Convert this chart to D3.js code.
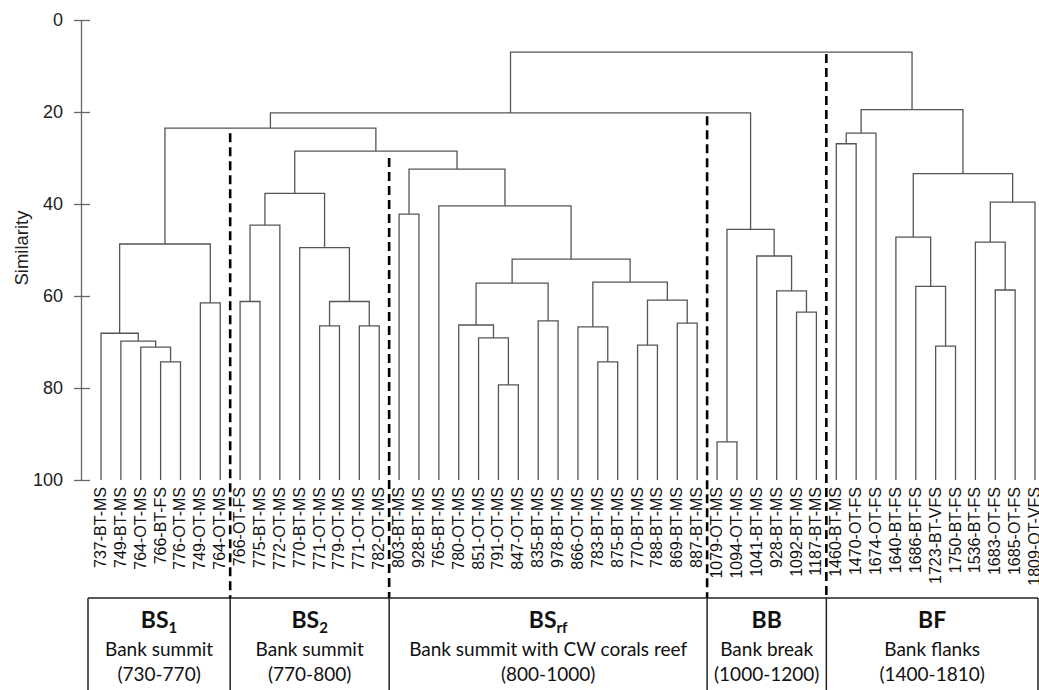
<!DOCTYPE html>
<html>
<head>
<meta charset="utf-8">
<script src="https://cdn.jsdelivr.net/npm/d3@7"></script>
<style>
  body { margin: 0; background: #fff; }
  svg { display: block; font-family: "Liberation Sans", Arial, sans-serif; }
</style>
</head>
<body>
<svg width="1039" height="690"></svg>
<script>
// sample labels, left to right
var leaves = [
  "737-BT-MS","749-BT-MS","764-OT-MS","766-BT-FS","776-OT-MS","749-OT-MS","764-OT-MS",
  "766-OT-FS","775-BT-MS","772-OT-MS","770-BT-MS","771-OT-MS","779-OT-MS","771-OT-MS","782-OT-MS",
  "803-BT-MS","928-BT-MS","765-BT-MS","780-OT-MS","851-OT-MS","791-OT-MS","847-OT-MS","835-BT-MS",
  "978-BT-MS","866-OT-MS","783-BT-MS","875-BT-MS","770-BT-MS","788-BT-MS","869-BT-MS","887-BT-MS",
  "1079-OT-MS","1094-OT-MS","1041-BT-MS","928-BT-MS","1092-BT-MS","1187-BT-MS",
  "1460-BT-MS","1470-OT-FS","1674-OT-FS","1640-BT-FS","1686-BT-FS","1723-BT-VFS","1750-BT-FS",
  "1536-BT-FS","1683-OT-FS","1685-OT-FS","1809-OT-VFS"
];

// hclust style merges: negative = leaf (1-based), positive = earlier merge row (1-based)
var merges = [
  [-4,-5],[-3,1],[-2,2],[-1,3],[-6,-7],[4,5],
  [-8,-9],[7,-10],[-12,-13],[-14,-15],[9,10],[-11,11],[8,12],
  [-16,-17],[-21,-22],[-20,15],[-19,16],[-23,-24],[17,18],[-26,-27],[-25,20],
  [-28,-29],[-30,-31],[22,23],[21,24],[19,25],[-18,26],[14,27],[13,28],[6,29],
  [-32,-33],[-36,-37],[-35,32],[-34,33],[31,34],[30,35],
  [-38,-39],[37,-40],[-43,-44],[-42,39],[-41,40],[-46,-47],[-45,42],[43,-48],
  [41,44],[38,45],[36,46]
];
var heights = [
  74.3,71.1,69.8,68.1,61.5,48.7,
  61.2,44.6,66.5,66.5,61.2,49.5,37.7,
  42.2,79.3,69.1,66.3,65.4,57.2,74.3,66.7,
  70.7,65.9,60.9,57.0,52.0,40.4,32.4,28.5,23.5,
  91.7,63.5,58.9,51.3,45.5,20.2,
  26.9,24.6,70.9,57.9,47.2,58.7,48.3,39.6,
  33.4,19.5,7.0
];

var yTicks = [0, 20, 40, 60, 80, 100];

// groups: first leaf index, dashed line top (similarity), texts
var groupStart = [0, 7, 15, 31, 37];
var groupDashTop = [null, 24.6, 30.0, 20.9, 7.4];
var groupCode = ["BS", "BS", "BS", "BB", "BF"];
var groupSub = ["1", "2", "rf", "", ""];
var groupName = ["Bank summit", "Bank summit", "Bank summit with CW corals reef", "Bank break", "Bank flanks"];
var groupRange = ["(730-770)", "(770-800)", "(800-1000)", "(1000-1200)", "(1400-1810)"];

var svg = d3.select("svg");

var x = d3.scaleLinear().domain([0, leaves.length - 1]).range([101, 1035]);
var y = d3.scaleLinear().domain([0, 100]).range([20, 480]);

// axis
var axis = svg.append("g")
    .attr("transform", "translate(81,0)")
    .call(d3.axisLeft(y).tickValues(yTicks).tickSizeOuter(0).tickSizeInner(7).tickPadding(11));
axis.select(".domain").attr("stroke", "#666").attr("stroke-width", 1.3);
axis.selectAll(".tick line").attr("x1", 9).attr("x2", -7).attr("stroke", "#666").attr("stroke-width", 1.3);
axis.selectAll(".tick text").attr("font-size", 18).attr("fill", "#222")
    .attr("font-family", "Liberation Sans, Arial, sans-serif");

svg.append("text")
    .attr("transform", "translate(28,248) rotate(-90)")
    .attr("text-anchor", "middle")
    .attr("font-size", 18.5)
    .attr("fill", "#222")
    .text("Similarity");

// dendrogram
var nodeX = [], nodeH = [];
function pos(ref) {
  if (ref < 0) return {x: x(-ref - 1), h: 100};
  return {x: nodeX[ref - 1], h: nodeH[ref - 1]};
}
var links = [];
merges.forEach(function(m, i) {
  var a = pos(m[0]), b = pos(m[1]), h = heights[i];
  nodeX.push((a.x + b.x) / 2);
  nodeH.push(h);
  links.push("M" + a.x + "," + y(a.h) + "V" + y(h) + "H" + b.x + "V" + y(b.h));
});

svg.append("g")
  .selectAll("path")
  .data(links)
  .enter().append("path")
    .attr("d", function(d) { return d; })
    .attr("fill", "none")
    .attr("stroke", "#555")
    .attr("stroke-width", 1.3);

// leaf labels
svg.append("g")
  .selectAll("text")
  .data(leaves)
  .enter().append("text")
    .attr("transform", function(d, i) { return "translate(" + (x(i) + 5) + ",487) rotate(-90)"; })
    .attr("text-anchor", "end")
    .attr("font-size", 16)
    .attr("fill", "#111")
    .text(function(d) { return d; });

// group boundaries
var bounds = groupStart.map(function(s) { return s === 0 ? 88 : (x(s - 1) + x(s)) / 2; });
bounds.push(1038);

svg.append("g")
  .selectAll("line")
  .data(groupStart.slice(1))
  .enter().append("line")
    .attr("x1", function(d, i) { return bounds[i + 1]; })
    .attr("x2", function(d, i) { return bounds[i + 1]; })
    .attr("y1", function(d, i) { return y(groupDashTop[i + 1]); })
    .attr("y2", 598)
    .attr("stroke", "#000")
    .attr("stroke-width", 2.6)
    .attr("stroke-dasharray", "9,5");

// table
var table = svg.append("g").attr("stroke", "#222").attr("stroke-width", 1.5);
table.append("line").attr("x1", 88).attr("x2", 1038).attr("y1", 598).attr("y2", 598);
table.selectAll(".v")
  .data(bounds)
  .enter().append("line")
    .attr("class", "v")
    .attr("x1", function(d) { return d; })
    .attr("x2", function(d) { return d; })
    .attr("y1", 598).attr("y2", 690);

var cells = svg.append("g")
    .attr("font-family", "Lato, 'Open Sans', sans-serif")
    .attr("fill", "#111")
    .attr("text-anchor", "middle");

groupCode.forEach(function(code, i) {
  var cx = (bounds[i] + bounds[i + 1]) / 2;
  var t = cells.append("text")
      .attr("x", cx).attr("y", 628)
      .attr("font-size", 23).attr("font-weight", "bold");
  t.append("tspan").text(code);
  if (groupSub[i]) {
    t.append("tspan").attr("font-size", 15).attr("dy", 5).text(groupSub[i]);
  }
  cells.append("text").attr("x", cx).attr("y", 656).attr("font-size", 19).text(groupName[i]);
  cells.append("text").attr("x", cx).attr("y", 681).attr("font-size", 19).text(groupRange[i]);
});
</script>
</body>
</html>
